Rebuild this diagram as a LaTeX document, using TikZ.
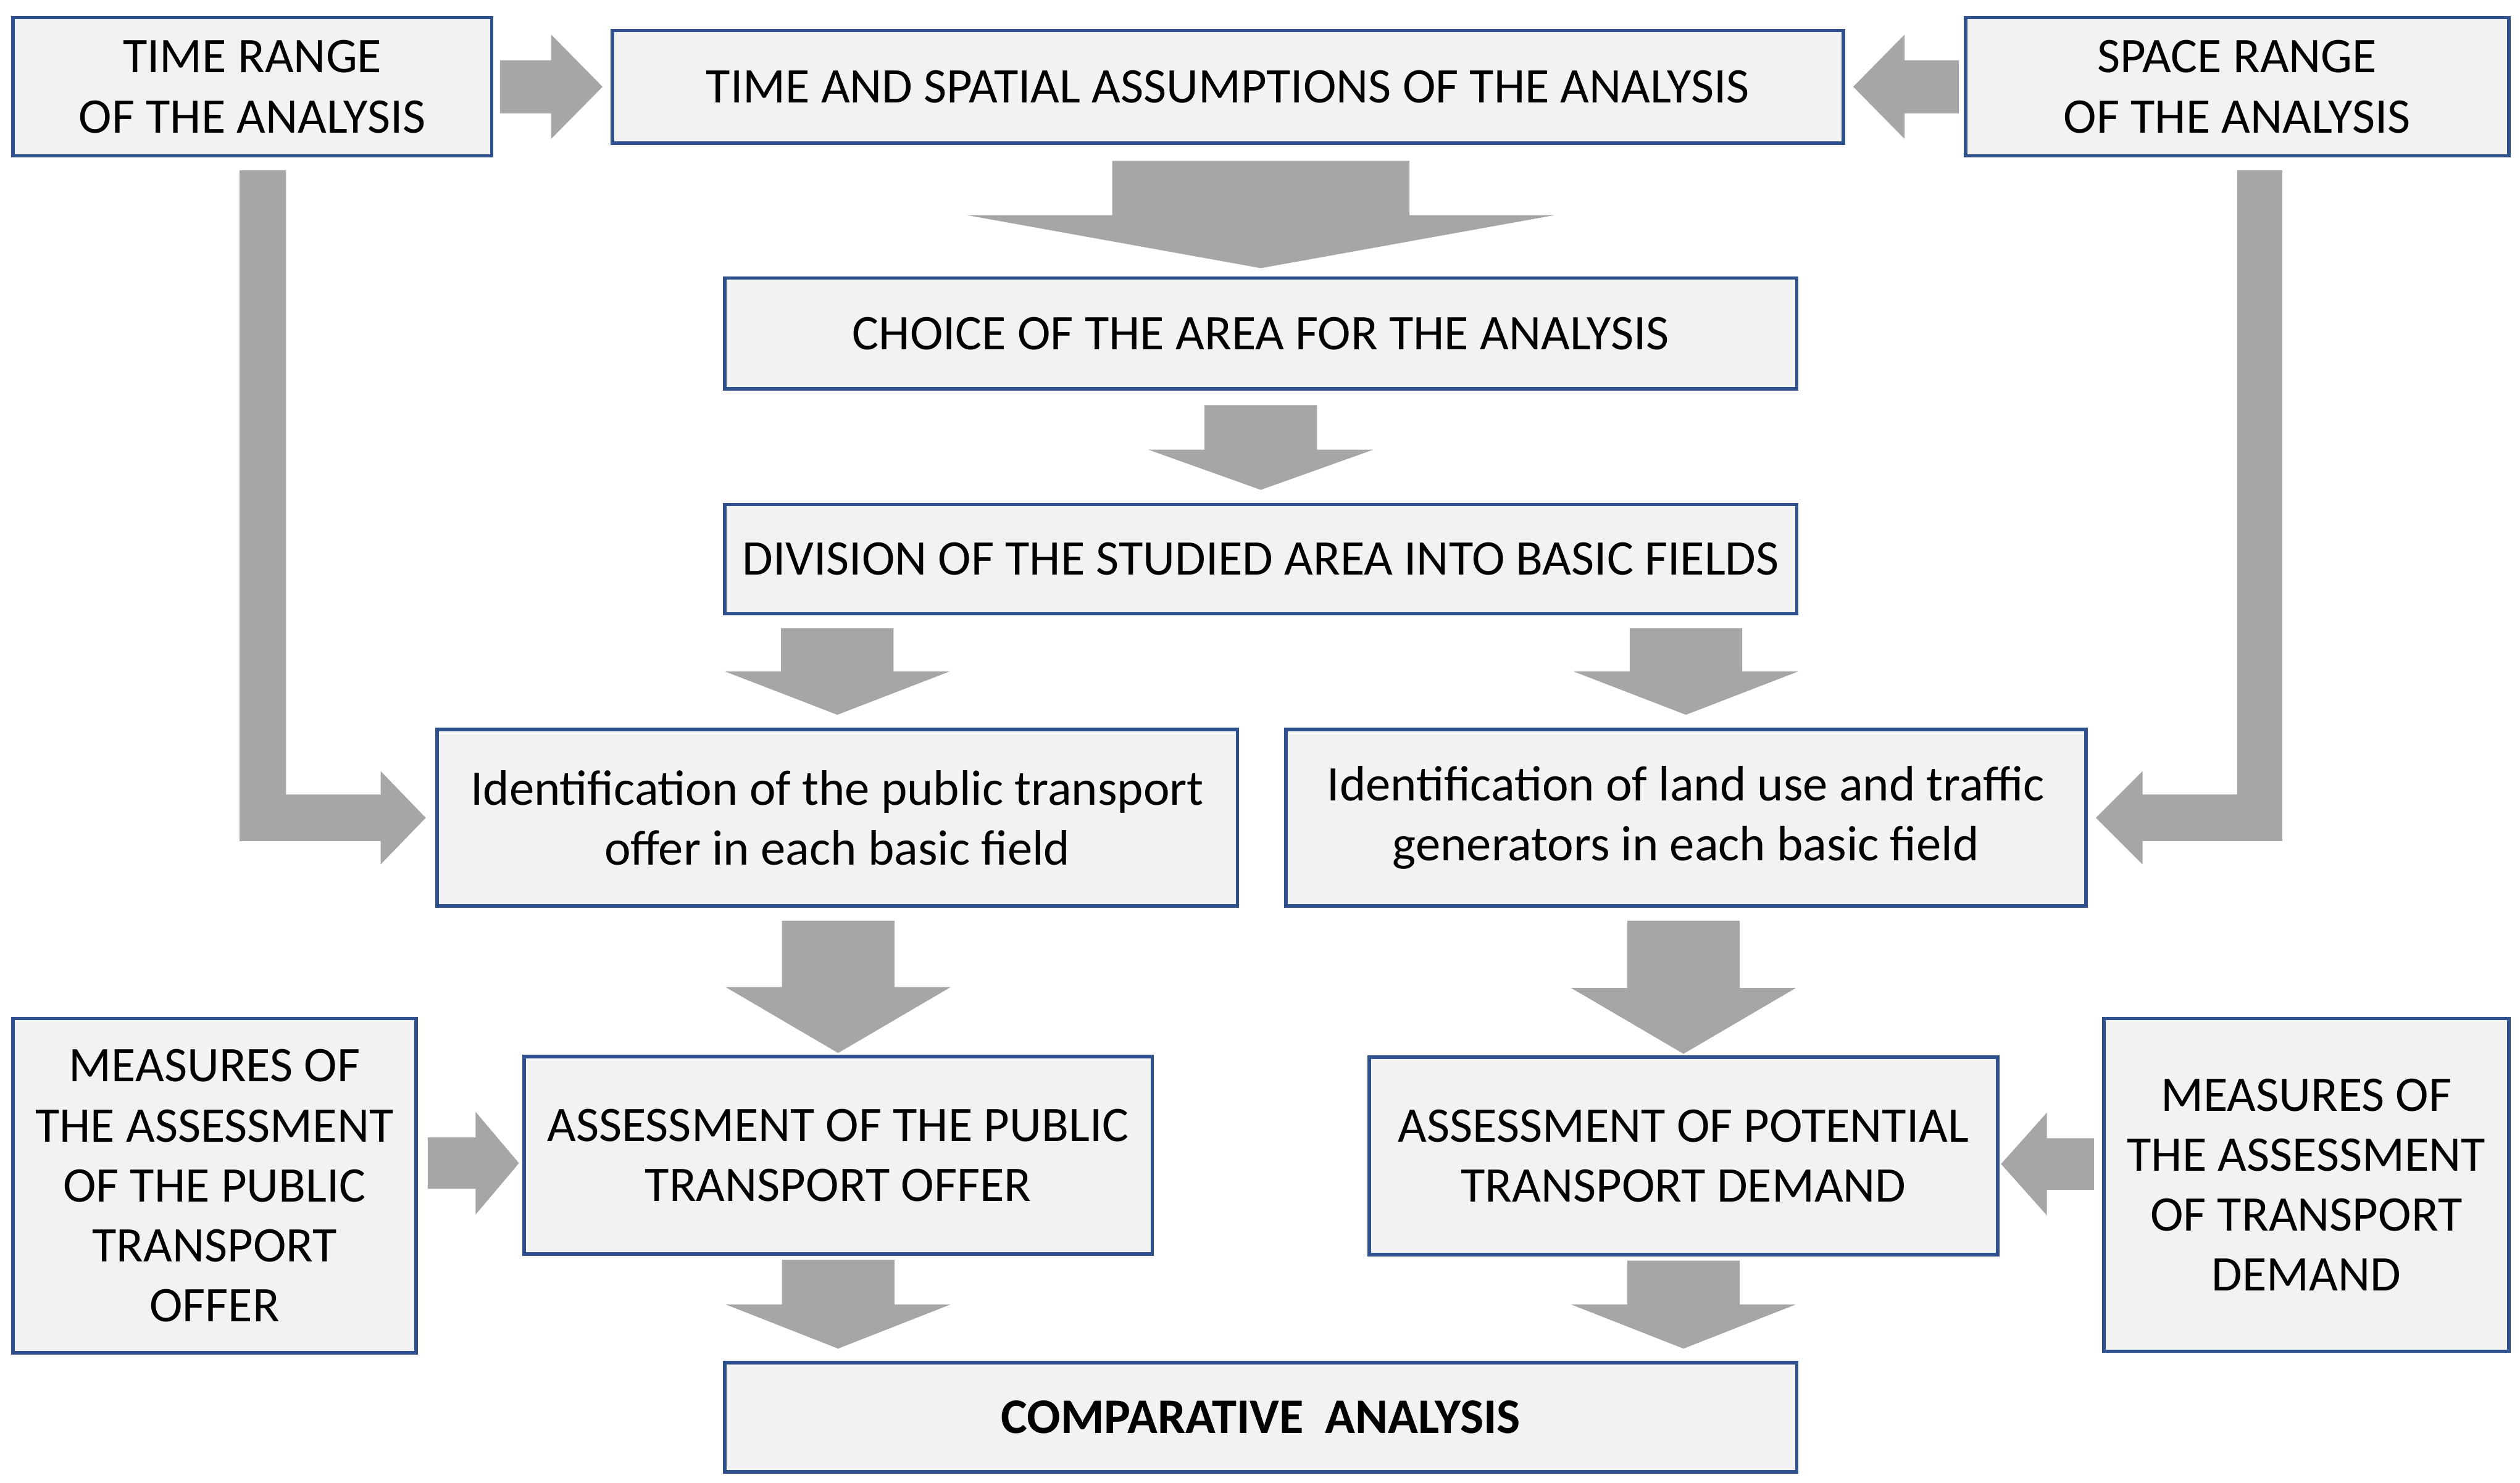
\documentclass[tikz,border=0pt]{standalone}
\usepackage{fontspec}
\setmainfont{Carlito}
\usetikzlibrary{calc}
\definecolor{BoxBlue}{RGB}{47,82,143}
\definecolor{BoxFill}{RGB}{242,242,242}
\definecolor{ArrowGray}{RGB}{166,166,166}

\tikzset{
  box/.style={draw=BoxBlue, fill=BoxFill, line width=2.2pt, align=center,
    inner sep=0pt, font=\fontsize{31}{37.3}\selectfont},
}

% block arrows: #1 start, #2 tip, #3 half shaft, #4 half head, #5 head length
\newcommand{\downblock}[5]{%
  \fill[ArrowGray] let \p1=(#1), \p2=(#2) in
    (\x2-#3,\y1) -- (\x2+#3,\y1) -- (\x2+#3,\y2+#5) -- (\x2+#4,\y2+#5)
    -- (\x2,\y2) -- (\x2-#4,\y2+#5) -- (\x2-#3,\y2+#5) -- cycle;}
\newcommand{\rightblock}[5]{%
  \fill[ArrowGray] let \p1=(#1), \p2=(#2) in
    (\x1,\y2+#3) -- (\x2-#5,\y2+#3) -- (\x2-#5,\y2+#4) -- (\x2,\y2)
    -- (\x2-#5,\y2-#4) -- (\x2-#5,\y2-#3) -- (\x1,\y2-#3) -- cycle;}
\newcommand{\leftblock}[5]{%
  \fill[ArrowGray] let \p1=(#1), \p2=(#2) in
    (\x1,\y2+#3) -- (\x2+#5,\y2+#3) -- (\x2+#5,\y2+#4) -- (\x2,\y2)
    -- (\x2+#5,\y2-#4) -- (\x2+#5,\y2-#3) -- (\x1,\y2-#3) -- cycle;}

\begin{document}
\begin{tikzpicture}[x=1pt,y=-1pt]

    \useasboundingbox (0,0) rectangle (1568,923);

    % top row
    \node[box, minimum width=298pt, minimum height=86pt] (time) at (157,54)
        {TIME RANGE\\OF THE ANALYSIS};
    \node[box, minimum width=766pt, minimum height=70pt] (assume) at (764,54)
        {TIME AND SPATIAL ASSUMPTIONS OF THE ANALYSIS};
    \node[box, minimum width=338pt, minimum height=86pt] (space) at (1392,54)
        {SPACE RANGE\\OF THE ANALYSIS};

    % area
    \node[box, minimum width=667pt, minimum height=69pt] (choice) at (784.5,207.5)
        {CHOICE OF THE AREA FOR THE ANALYSIS};
    \node[box, minimum width=667pt, minimum height=68pt] (division) at (784.5,348)
        {DIVISION OF THE STUDIED AREA INTO BASIC FIELDS};

    % identification
    \node[box, minimum width=498pt, minimum height=110pt] (offer) at (521,509)
        {Identification of the public transport\\offer in each basic field};
    \node[box, minimum width=498pt, minimum height=110pt] (landuse) at (1049,509)
        {Identification of land use and traffic\\generators in each basic field};

    % assessment
    \node[box, minimum width=391pt, minimum height=123pt] (assoffer) at (521.5,719)
        {ASSESSMENT OF THE PUBLIC\\TRANSPORT OFFER};
    \node[box, minimum width=391pt, minimum height=123pt] (assdemand) at (1047.5,719.5)
        {ASSESSMENT OF POTENTIAL\\TRANSPORT DEMAND};
    \node[box, minimum width=251pt, minimum height=208pt] (measoffer) at (133.5,738)
        {MEASURES OF\\THE ASSESSMENT\\OF THE PUBLIC\\TRANSPORT\\OFFER};
    \node[box, minimum width=252pt, minimum height=207pt] (measdemand) at (1435,737.5)
        {MEASURES OF\\THE ASSESSMENT\\OF TRANSPORT\\DEMAND};

    % result
    \node[box, minimum width=667pt, minimum height=68pt, font=\fontsize{31}{37.3}\selectfont\bfseries]
        (compare) at (784.5,882) {COMPARATIVE\hspace{0.2em} ANALYSIS};

    % side arrows
    \rightblock{$(time.east)+(4,0)$}{$(assume.west)+(-5,0)$}{16.5pt}{32.5pt}{32pt}
    \leftblock{$(space.west)+(-3,0)$}{$(assume.east)+(5,0)$}{16.5pt}{32.5pt}{32pt}
    \rightblock{$(measoffer.east)+(6,0)$}{$(assoffer.west)+(-2,5)$}{16pt}{32pt}{27pt}
    \leftblock{$(measdemand.west)+(-5,0)$}{$(assdemand.east)+(1,5)$}{16pt}{32pt}{28.5pt}

    % down arrows
    \downblock{$(assume.south)+(0,10)$}{$(choice.north)+(0,-5)$}{92.5pt}{183pt}{33pt}
    \downblock{$(choice.south)+(0,9)$}{$(division.north)+(0,-8)$}{35pt}{70pt}{25pt}
    \downblock{$(division.south)+(0,8)$}{$(offer.north)+(0,-8)$}{35pt}{70pt}{27pt}
    \downblock{$(division.south)+(0,8)$}{$(landuse.north)+(0,-8)$}{35pt}{70pt}{27pt}
    \downblock{$(offer.south)+(0,8)$}{$(assoffer.north)+(0,-1)$}{35pt}{70pt}{41pt}
    \downblock{$(landuse.south)+(0,8)$}{$(assdemand.north)+(0,-1)$}{35pt}{70pt}{41pt}
    \downblock{$(assoffer.south)+(0,2.5)$}{$(assoffer.south |- compare.north)+(0,-7.5)$}{35pt}{70pt}{27.5pt}
    \downblock{$(assdemand.south)+(0,2.5)$}{$(assdemand.south |- compare.north)+(0,-7.5)$}{35pt}{70pt}{27.5pt}

    % bent arrows from the ranges
    \fill[ArrowGray] let \p1=($(time.south)+(6.5,8)$), \p2=($(offer.west)+(-6,0)$) in
        (\x1-14.5pt,\y1) -- (\x1+14.5pt,\y1) -- (\x1+14.5pt,\y2+14.5pt)
        -- (\x2-28pt,\y2+14.5pt) -- (\x2-28pt,\y2+29pt) -- (\x2,\y2)
        -- (\x2-28pt,\y2-29pt) -- (\x2-28pt,\y2-14.5pt) -- (\x1-14.5pt,\y2-14.5pt) -- cycle;
    \fill[ArrowGray] let \p1=($(space.south)+(14,8)$), \p2=($(landuse.east)+(5,0)$) in
        (\x1+14pt,\y1) -- (\x1-14pt,\y1) -- (\x1-14pt,\y2+14.5pt)
        -- (\x2+29pt,\y2+14.5pt) -- (\x2+29pt,\y2+29pt) -- (\x2,\y2)
        -- (\x2+29pt,\y2-29pt) -- (\x2+29pt,\y2-14.5pt) -- (\x1+14pt,\y2-14.5pt) -- cycle;

\end{tikzpicture}
\end{document}
